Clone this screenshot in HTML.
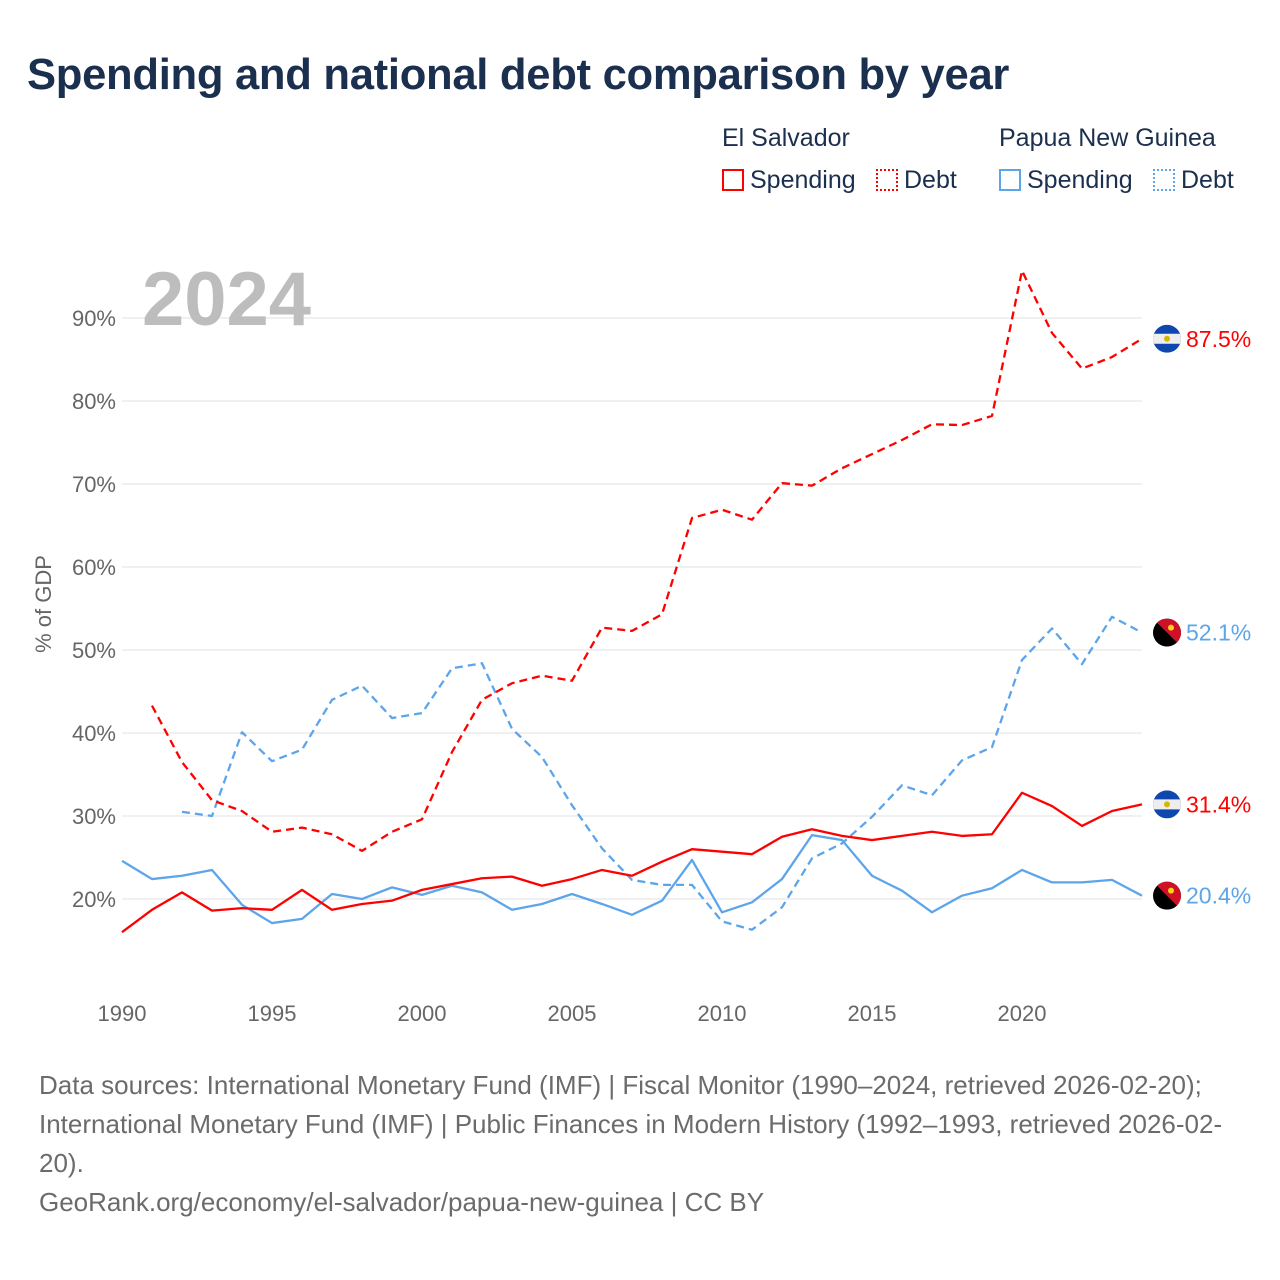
<!DOCTYPE html>
<html><head><meta charset="utf-8">
<style>
body{margin:0;background:#fff;font-family:"Liberation Sans",sans-serif;}
#wrap{position:relative;width:1280px;height:1280px;overflow:hidden;}
h1{position:absolute;left:27px;top:51px;margin:0;font-size:43.6px;font-weight:bold;color:#1b2f4e;letter-spacing:-0.3px}
.lg{position:absolute;font-size:25px;color:#1b2f4e}
.box{display:inline-block;width:22px;height:22px;box-sizing:border-box;vertical-align:-3px;margin-right:6px}
.src{position:absolute;left:39px;top:1066px;font-size:26px;line-height:39px;color:#6b6b6b;width:1192px}
</style></head><body>
<div id="wrap">
<h1>Spending and national debt comparison by year</h1>
<div class="lg" style="left:722px;top:124px">El Salvador</div>
<div class="lg" style="left:999px;top:124px">Papua New Guinea</div>
<div class="lg" style="left:722px;top:166px"><span class="box" style="border:2px solid #f00"></span>Spending</div>
<div class="lg" style="left:876px;top:166px"><span class="box" style="border:2px dotted #f00"></span>Debt</div>
<div class="lg" style="left:999px;top:166px"><span class="box" style="border:2px solid #5da5ea"></span>Spending</div>
<div class="lg" style="left:1153px;top:166px"><span class="box" style="border:2px dotted #5da5ea"></span>Debt</div>
<svg id="chart" width="1280" height="1280" style="position:absolute;left:0;top:0"></svg>
<div class="src">Data sources: International Monetary Fund (IMF) | Fiscal Monitor (1990–2024, retrieved 2026-02-20); International Monetary Fund (IMF) | Public Finances in Modern History (1992–1993, retrieved 2026-02-20).<br>GeoRank.org/economy/el-salvador/papua-new-guinea | CC BY</div>
</div>
<script>
const esSpending=[16.0,18.7,20.8,18.6,18.9,18.7,21.1,18.7,19.4,19.8,21.1,21.8,22.5,22.7,21.6,22.4,23.5,22.8,24.5,26.0,25.7,25.4,27.5,28.4,27.6,27.1,27.6,28.1,27.6,27.8,32.8,31.2,28.8,30.6,31.4];
const esDebt=[null,43.3,36.5,31.9,30.6,28.1,28.6,27.8,25.8,28.1,29.6,37.7,44.0,46.0,46.9,46.3,52.7,52.3,54.3,65.9,66.9,65.7,70.1,69.8,71.9,73.6,75.3,77.2,77.1,78.2,95.7,88.2,83.9,85.3,87.5];
const pngSpending=[24.6,22.4,22.8,23.5,19.3,17.1,17.6,20.6,20.0,21.4,20.5,21.6,20.8,18.7,19.4,20.6,19.4,18.1,19.8,24.7,18.4,19.6,22.4,27.7,27.1,22.8,21.0,18.4,20.4,21.3,23.5,22.0,22.0,22.3,20.4];
const pngDebt=[null,null,30.5,30.0,40.1,36.6,38.0,44.0,45.7,41.8,42.4,47.8,48.4,40.5,37.1,31.3,26.1,22.3,21.7,21.7,17.3,16.3,19.0,24.9,26.7,29.9,33.7,32.5,36.7,38.3,48.8,52.6,48.3,54.0,52.1];
const firstYear=1990;
const yTicks=[20,30,40,50,60,70,80,90];
const xTicks=[1990,1995,2000,2005,2010,2015,2020];
const NS="http://www.w3.org/2000/svg";
const svg=document.getElementById('chart');
const xs=y=>122+(y-1990)*30;
const ys=v=>899-(v-20)*8.3;
function mk(t,a){const e=document.createElementNS(NS,t);for(const k in a)e.setAttribute(k,a[k]);svg.appendChild(e);return e;}
yTicks.forEach(v=>{
 const g=mk('line',{x1:122,x2:1142,y1:ys(v),y2:ys(v),stroke:'#e6e6e6','stroke-width':1.3});
 
 
 const t=mk('text',{x:116,y:ys(v)+8,'text-anchor':'end','font-size':22,fill:'#666','font-family':'Liberation Sans'});
 t.textContent=v+'%';
 
 
});
xTicks.forEach(y=>{
 const t=mk('text',{x:xs(y),y:1021,'text-anchor':'middle','font-size':22,fill:'#666','font-family':'Liberation Sans'});
 t.textContent=y;
 
 
});
const yt=mk('text',{x:51,y:604,transform:'rotate(-90 51 604)','text-anchor':'middle','font-size':22,fill:'#666','font-family':'Liberation Sans'});
yt.textContent='% of GDP';


const yr=mk('text',{x:142,y:325,'font-size':76,'font-weight':'bold',fill:'#bdbdbd','font-family':'Liberation Sans'});
yr.textContent='2024';


function series(arr,color,dash,name){
 let d='';arr.forEach((v,i)=>{if(v==null)return;d+=(d?'L':'M')+xs(firstYear+i)+','+ys(v);});
 const p=mk('path',{d:d,fill:'none',stroke:color,'stroke-width':2.3,'stroke-dasharray':dash||'none','stroke-linejoin':'round'});
 
 
}
series(pngSpending,'#5da5ea',null,'png-spending-line');
series(pngDebt,'#5da5ea','8,5','png-debt-line');
series(esSpending,'#f00',null,'es-spending-line');
series(esDebt,'#f00','8,5','es-debt-line');
function flag(v,type,color,name){
 const cy=ys(v),cx=1167;
 const g=document.createElementNS(NS,'g');svg.appendChild(g);
 
 
 const add=(t,a)=>{const e=document.createElementNS(NS,t);for(const k in a)e.setAttribute(k,a[k]);g.appendChild(e);return e;};
 const cid='c'+name;
 const cp=add('clipPath',{id:cid});const c=document.createElementNS(NS,'circle');c.setAttribute('cx',cx);c.setAttribute('cy',cy);c.setAttribute('r',14);cp.appendChild(c);
 if(type==='es'){
  add('rect',{x:cx-14,y:cy-14,width:28,height:28,fill:'#0f47af','clip-path':`url(#${cid})`});
  add('rect',{x:cx-14,y:cy-5,width:28,height:10,fill:'#eee','clip-path':`url(#${cid})`});
  add('circle',{cx:cx,cy:cy,r:3,fill:'#d4b800'});
 }else{
  add('rect',{x:cx-14,y:cy-14,width:28,height:28,fill:'#000','clip-path':`url(#${cid})`});
  add('polygon',{points:`${cx-14},${cy-14} ${cx+14},${cy-14} ${cx+14},${cy+14}`,fill:'#ce1126','clip-path':`url(#${cid})`});
  add('circle',{cx:cx+4,cy:cy-5,r:3,fill:'#fcd116'});
 }
 const t=mk('text',{x:1186,y:cy+8,'font-size':23,fill:color,'font-family':'Liberation Sans'});
 t.textContent=v.toFixed(1)+'%';
 
 
}
const n=esSpending.length-1;
flag(esDebt[n],'es','#f00','es-debt');
flag(pngDebt[n],'png','#5da5ea','png-debt');
flag(esSpending[n],'es','#f00','es-spending');
flag(pngSpending[n],'png','#5da5ea','png-spending');
</script>
</body></html>
